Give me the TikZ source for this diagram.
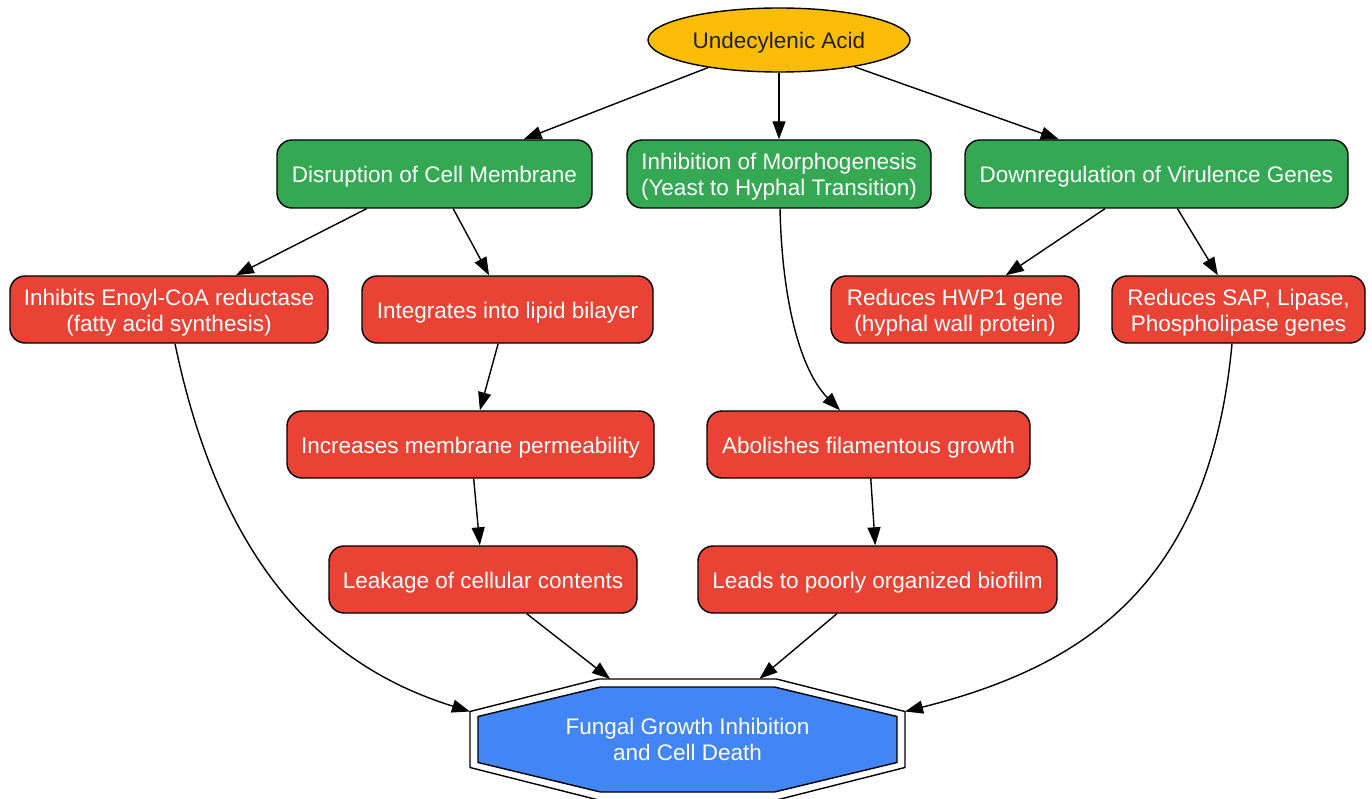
\documentclass[tikz,border=0pt]{standalone}
\usepackage{fontspec}
\setmainfont{Liberation Sans}
\usetikzlibrary{arrows.meta,shapes.geometric,calc}
\definecolor{cyel}{HTML}{FBBC05}
\definecolor{cgreen}{HTML}{34A853}
\definecolor{cred}{HTML}{EA4335}
\definecolor{cblue}{HTML}{4285F4}
\definecolor{cdark}{HTML}{202124}
\newcommand\hstrut{\rule{0pt}{22pt}}
\tikzset{
  base/.style={draw=black, line width=1.4pt, font=\fontsize{22.5}{26}\selectfont, align=center, inner sep=0pt},
  gbox/.style={base, rectangle, rounded corners=15pt, fill=cgreen, text=white, minimum height=68pt},
  rbox/.style={base, rectangle, rounded corners=15pt, fill=cred, text=white, minimum height=67pt},
  arr/.style={draw=black, line width=1.4pt, -{Triangle[length=18pt,width=13pt]}},
  octline/.style={draw=black, line width=1.4pt}
}
\begin{document}
\begin{tikzpicture}[x=1pt,y=-1pt]
\useasboundingbox (0,0) rectangle (1372,799);
\fill[white] (0,0) rectangle (1372,799);

% nodes
\node[base, ellipse, fill=cyel, text=cdark, minimum width=262pt, minimum height=64pt] (ua) at (779,40) {\hstrut Undecylenic Acid};

\node[gbox, minimum width=315pt] (dis) at (434.5,174) {\hstrut Disruption of Cell Membrane};
\node[gbox, minimum width=304pt] (morph) at (779,174) {\hstrut Inhibition of Morphogenesis\\(Yeast to Hyphal Transition)};
\node[gbox, minimum width=383pt] (down) at (1156.5,174) {\hstrut Downregulation of Virulence Genes};

\node[rbox, minimum width=318pt] (enoyl) at (169,309.5) {\hstrut Inhibits Enoyl-CoA reductase\\(fatty acid synthesis)};
\node[rbox, minimum width=291pt] (integ) at (507.5,309.5) {\hstrut Integrates into lipid bilayer};
\node[rbox, minimum width=248pt] (hwp) at (955,309.5) {\hstrut Reduces HWP1 gene\\(hyphal wall protein)};
\node[rbox, minimum width=253pt] (sap) at (1238.5,309.5) {\hstrut Reduces SAP, Lipase,\\Phospholipase genes};

\node[rbox, minimum width=367pt] (incr) at (470.5,444.5) {\hstrut Increases membrane permeability};
\node[rbox, minimum width=323pt] (abol) at (868.5,444.5) {\hstrut Abolishes filamentous growth};

\node[rbox, minimum width=308pt] (leak) at (483,579.5) {\hstrut Leakage of cellular contents};
\node[rbox, minimum width=359pt] (leads) at (877.5,579.5) {\hstrut Leads to poorly organized biofilm};

% octagon (double border)
\coordinate (octc) at (687.5,739.5);
\draw[octline, fill=white] ($(octc)+(-89,-60.5)$) -- ($(octc)+(89,-60.5)$) -- ($(octc)+(217.5,-28)$) -- ($(octc)+(217.5,28)$) -- ($(octc)+(89,60.5)$) -- ($(octc)+(-89,60.5)$) -- ($(octc)+(-217.5,28)$) -- ($(octc)+(-217.5,-28)$) -- cycle;
\draw[octline, fill=cblue] ($(octc)+(-87,-52.5)$) -- ($(octc)+(87,-52.5)$) -- ($(octc)+(209.5,-23)$) -- ($(octc)+(209.5,23)$) -- ($(octc)+(87,52.5)$) -- ($(octc)+(-87,52.5)$) -- ($(octc)+(-209.5,23)$) -- ($(octc)+(-209.5,-23)$) -- cycle;
\node[font=\fontsize{22.5}{26}\selectfont, align=center, text=white, minimum width=435pt, minimum height=121pt, inner sep=0pt] (oct) at (octc) {Fungal Growth Inhibition\\and Cell Death};
\coordinate (octL) at ($(oct.center)+(-217.5,-28)$);
\coordinate (octR) at ($(oct.center)+(217.5,-28)$);

% straight edges
\draw[arr] (ua) -- (dis);
\draw[arr] (ua) -- (morph);
\draw[arr] (ua) -- (down);
\draw[arr] (dis) -- (enoyl);
\draw[arr] (dis) -- (integ);
\draw[arr] (integ) -- (incr);
\draw[arr] (incr) -- (leak);
\draw[arr] (leak) -- (oct);
\draw[arr] (abol) -- (leads);
\draw[arr] (leads) -- (oct);
\draw[arr] (down) -- (hwp);
\draw[arr] (down) -- (sap);

% curved edges
\draw[arr] ([xshift=1pt]morph.south) .. controls (782,300) and (800,370) .. ([xshift=-28.5pt]abol.north);
\draw[arr] ([xshift=6pt]enoyl.south) .. controls (220,560) and (320,665) .. (octL);
\draw[arr] ([xshift=-6.5pt]sap.south) .. controls (1210,580) and (1090,665) .. (octR);
\end{tikzpicture}
\end{document}
